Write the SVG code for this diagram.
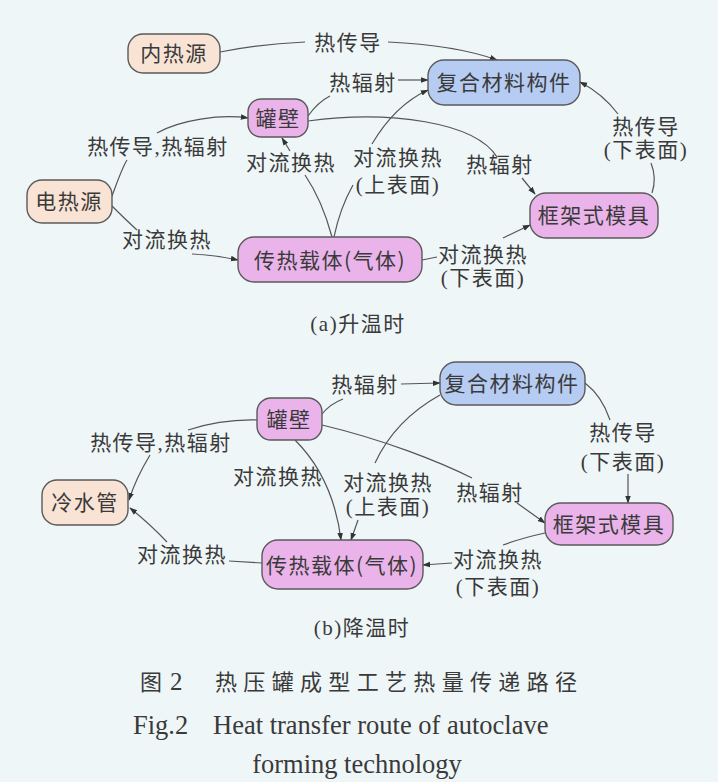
<svg xmlns="http://www.w3.org/2000/svg" width="718" height="782" viewBox="0 0 718 782">
<style>
.bg{fill:#eef6f8}
.nd{stroke:#5a5a5a;stroke-width:1.4}
.peach{fill:#f9e3d5}
.pink{fill:#eab4ea}
.blue{fill:#b6ccf2}
.t{font-family:"Liberation Serif","Noto Sans CJK SC",serif;font-size:21px;fill:#3a3a3a;text-anchor:middle;letter-spacing:1.5px}
.nt{font-family:"Noto Sans CJK SC",sans-serif;font-size:21px;fill:#3a3a3a;text-anchor:middle;letter-spacing:1.5px}
.sub{font-family:"Liberation Serif","Noto Sans CJK SC",serif;font-size:21px;fill:#3a3a3a;text-anchor:middle;letter-spacing:1.5px}
.cap{font-family:"Liberation Serif","Noto Sans CJK SC",serif;font-size:22px;fill:#3a3a3a}
.en{font-family:"Liberation Serif",serif;font-size:26.5px;fill:#3a3a3a}
.c{fill:none;stroke:#555;stroke-width:1.2}
.a{marker-end:url(#ar)}
</style>
<defs>
<marker id="ar" viewBox="0 0 10 10" refX="9" refY="5" markerWidth="8" markerHeight="8" markerUnits="userSpaceOnUse" orient="auto">
<path d="M0,1.5 L10,5 L0,8.5 Z" fill="#333"/>
</marker>
</defs>
<rect class="bg" x="0" y="0" width="718" height="782"/>

<g id="connectors">
<!-- (a) -->
<path class="c" d="M220,52 Q260,44 305,42"/>
<path class="c a" d="M388,42 Q455,45 497,60"/>
<path class="c" d="M308,116 Q318,102 330,96"/>
<path class="c a" d="M398,80 L428,80"/>
<path class="c" d="M308,121 C390,110 475,122 497,157"/>
<path class="c a" d="M522,178 L535,194"/>
<path class="c" d="M112,196 C118,180 122,168 127,160"/>
<path class="c a" d="M157,133 C180,120 220,114 248,118"/>
<path class="c" d="M112,206 Q126,220 137,230"/>
<path class="c a" d="M192,254 Q215,255 238,260"/>
<path class="c" d="M332,237 Q322,200 305,175"/>
<path class="c a" d="M290,151 L282,138"/>
<path class="c" d="M334,237 Q340,208 353,185"/>
<path class="c a" d="M372,144 Q395,105 428,90"/>
<path class="c" d="M422,260 L437,257"/>
<path class="c a" d="M503,238 L530,225"/>
<path class="c" d="M652,193 Q657,178 651,163"/>
<path class="c a" d="M618,114 Q603,94 580,82"/>
<!-- (b) -->
<path class="c" d="M322,414 Q330,404 343,399"/>
<path class="c a" d="M401,384 L440,383"/>
<path class="c" d="M585,383 Q602,396 610,420"/>
<path class="c a" d="M628,474 L628,503"/>
<path class="c" d="M322,425 C385,440 440,462 472,478"/>
<path class="c a" d="M517,503 L545,523"/>
<path class="c" d="M257,420 Q222,419 188,430"/>
<path class="c a" d="M150,455 Q136,478 129,500"/>
<path class="c a" d="M295,440 C320,465 336,500 341,540"/>
<path class="c" d="M440,395 Q395,420 375,463"/>
<path class="c a" d="M358,520 L351,540"/>
<path class="c" d="M262,563 L229,561"/>
<path class="c a" d="M167,542 Q150,524 130,508"/>
<path class="c" d="M545,533 Q522,538 503,545"/>
<path class="c a" d="M452,563 L423,565"/>
</g>

<g id="a-neirehyuan"><rect class="nd peach" x="128" y="34" width="92" height="39" rx="15"/><text class="nt" x="174" y="61">内热源</text></g>
<g id="a-guanbi"><rect class="nd pink" x="248" y="99" width="60" height="38" rx="13"/><text class="nt" x="278" y="126">罐壁</text></g>
<g id="a-fuhe"><rect class="nd blue" x="428" y="60" width="152" height="45" rx="16"/><text class="nt" x="504" y="90">复合材料构件</text></g>
<g id="a-dianreyuan"><rect class="nd peach" x="27" y="180" width="85" height="43" rx="15"/><text class="nt" x="69" y="209">电热源</text></g>
<g id="a-zaiti"><rect class="nd pink" x="238" y="237" width="184" height="45" rx="16"/><text class="nt" x="330" y="268">传热载体(气体)</text></g>
<g id="a-muju"><rect class="nd pink" x="530" y="193" width="128" height="45" rx="16"/><text class="nt" x="594" y="223">框架式模具</text></g>

<g id="a-labels">
<text class="t" x="348" y="50">热传导</text>
<text class="t" x="363" y="90">热辐射</text>
<text class="t" x="158" y="154">热传导,热辐射</text>
<text class="t" x="291" y="170">对流换热</text>
<text class="t" x="398" y="165">对流换热</text>
<text class="t" x="398" y="192">(上表面)</text>
<text class="t" x="500" y="172">热辐射</text>
<text class="t" x="646" y="134">热传导</text>
<text class="t" x="646" y="157">(下表面)</text>
<text class="t" x="167" y="247">对流换热</text>
<text class="t" x="483" y="262">对流换热</text>
<text class="t" x="483" y="285">(下表面)</text>
<text class="sub" x="358" y="331">(a)升温时</text>
</g>

<g id="b-guanbi"><rect class="nd pink" x="257" y="398" width="65" height="42" rx="14"/><text class="nt" x="289" y="427">罐壁</text></g>
<g id="b-fuhe"><rect class="nd blue" x="440" y="362" width="145" height="43" rx="16"/><text class="nt" x="512" y="391">复合材料构件</text></g>
<g id="b-lengshuiguan"><rect class="nd peach" x="42" y="480" width="86" height="45" rx="15"/><text class="nt" x="85" y="510">冷水管</text></g>
<g id="b-zaiti"><rect class="nd pink" x="262" y="540" width="161" height="49" rx="16"/><text class="nt" x="342" y="573">传热载体(气体)</text></g>
<g id="b-muju"><rect class="nd pink" x="545" y="503" width="128" height="42" rx="16"/><text class="nt" x="609" y="532">框架式模具</text></g>

<g id="b-labels">
<text class="t" x="365" y="392">热辐射</text>
<text class="t" x="623" y="440">热传导</text>
<text class="t" x="623" y="469">(下表面)</text>
<text class="t" x="490" y="500">热辐射</text>
<text class="t" x="161" y="450">热传导,热辐射</text>
<text class="t" x="278" y="484">对流换热</text>
<text class="t" x="388" y="490">对流换热</text>
<text class="t" x="388" y="514">(上表面)</text>
<text class="t" x="182" y="562">对流换热</text>
<text class="t" x="498" y="567">对流换热</text>
<text class="t" x="498" y="594">(下表面)</text>
<text class="sub" x="362" y="635">(b)降温时</text>
</g>

<g id="caption">
<text class="cap" x="140" y="690">图</text>
<text class="cap" x="170" y="690" style="font-size:25px">2</text>
<text class="cap" x="215" y="690" textLength="362" lengthAdjust="spacing">热压罐成型工艺热量传递路径</text>
<text class="en" x="133" y="734">Fig.2</text>
<text class="en" x="213" y="734">Heat transfer route of autoclave</text>
<text class="en" x="357" y="773" text-anchor="middle">forming technology</text>
</g>
</svg>
